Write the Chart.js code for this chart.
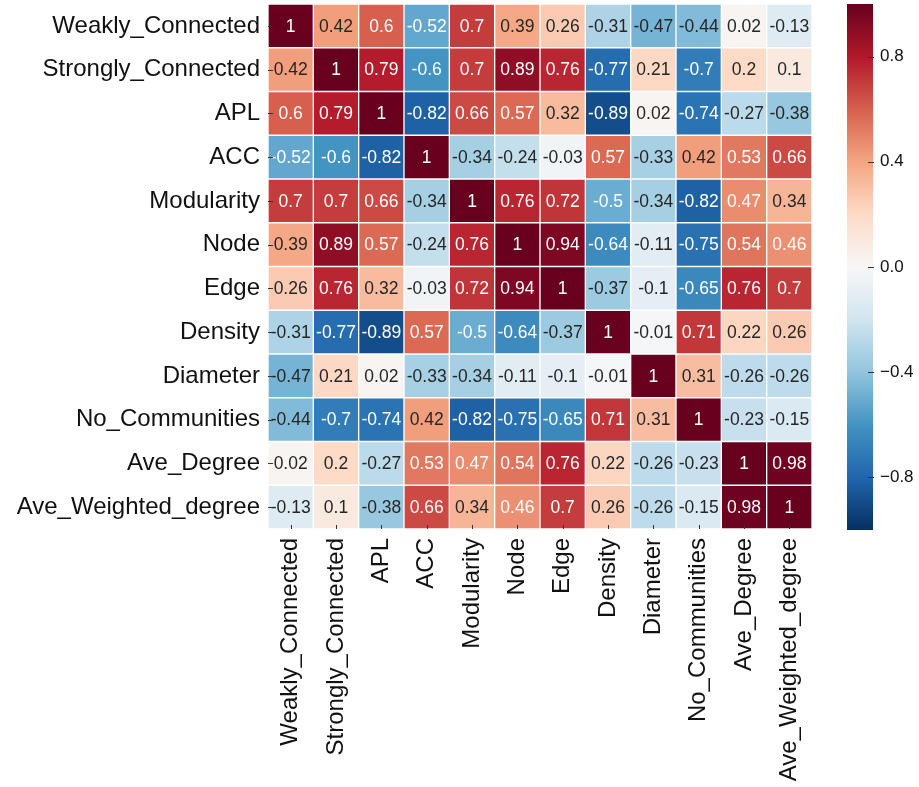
<!DOCTYPE html>
<html>
<head>
<meta charset="utf-8">
<script src="https://cdn.jsdelivr.net/npm/chart.js@4.4.0/dist/chart.umd.min.js"></script>
<style>
    body { margin: 0; background: #fff; }
    #wrap { position: relative; width: 919px; height: 787px; }
    #heat { position: absolute; left: 0; top: 0; }
    #cbar { position: absolute; left: 840px; top: 0; }
</style>
</head>
<body>
<div id="wrap">
    <canvas id="heat" width="919" height="787"></canvas>
    <canvas id="cbar" width="79" height="787"></canvas>
</div>
<script>
// Tên các biến (dùng cho cả hàng và cột)
const labels = ['Weakly_Connected', 'Strongly_Connected', 'APL', 'ACC', 'Modularity', 'Node',
    'Edge', 'Density', 'Diameter', 'No_Communities', 'Ave_Degree', 'Ave_Weighted_degree'];

// Ma trận tương quan, mỗi mảng là một hàng
const rowWeakly   = [1, 0.42, 0.6, -0.52, 0.7, 0.39, 0.26, -0.31, -0.47, -0.44, 0.02, -0.13];
const rowStrongly = [0.42, 1, 0.79, -0.6, 0.7, 0.89, 0.76, -0.77, 0.21, -0.7, 0.2, 0.1];
const rowAPL      = [0.6, 0.79, 1, -0.82, 0.66, 0.57, 0.32, -0.89, 0.02, -0.74, -0.27, -0.38];
const rowACC      = [-0.52, -0.6, -0.82, 1, -0.34, -0.24, -0.03, 0.57, -0.33, 0.42, 0.53, 0.66];
const rowModul    = [0.7, 0.7, 0.66, -0.34, 1, 0.76, 0.72, -0.5, -0.34, -0.82, 0.47, 0.34];
const rowNode     = [0.39, 0.89, 0.57, -0.24, 0.76, 1, 0.94, -0.64, -0.11, -0.75, 0.54, 0.46];
const rowEdge     = [0.26, 0.76, 0.32, -0.03, 0.72, 0.94, 1, -0.37, -0.1, -0.65, 0.76, 0.7];
const rowDensity  = [-0.31, -0.77, -0.89, 0.57, -0.5, -0.64, -0.37, 1, -0.01, 0.71, 0.22, 0.26];
const rowDiameter = [-0.47, 0.21, 0.02, -0.33, -0.34, -0.11, -0.1, -0.01, 1, 0.31, -0.26, -0.26];
const rowNoComm   = [-0.44, -0.7, -0.74, 0.42, -0.82, -0.75, -0.65, 0.71, 0.31, 1, -0.23, -0.15];
const rowAveDeg   = [0.02, 0.2, -0.27, 0.53, 0.47, 0.54, 0.76, 0.22, -0.26, -0.23, 1, 0.98];
const rowAveWDeg  = [-0.13, 0.1, -0.38, 0.66, 0.34, 0.46, 0.7, 0.26, -0.26, -0.15, 0.98, 1];
const rows = [rowWeakly, rowStrongly, rowAPL, rowACC, rowModul, rowNode,
    rowEdge, rowDensity, rowDiameter, rowNoComm, rowAveDeg, rowAveWDeg];

// Thang màu thanh bên phải
const vMin = -1, vMax = 1;
const cbTicks = [-0.8, -0.4, 0, 0.4, 0.8];

// Bảng màu RdBu_r (từ -1 tới 1)
const rdbu = ['#053061', '#2166ac', '#4393c3', '#92c5de', '#d1e5f0', '#f7f7f7',
    '#fddbc7', '#f4a582', '#d6604d', '#b2182b', '#67001f'];
const FONT = '"Liberation Sans", Arial, sans-serif';

function hexRgb(h) {
    return [1, 3, 5].map(k => parseInt(h.substr(k, 2), 16));
}

function cmap(v) {
    let t = (v - vMin) / (vMax - vMin) * (rdbu.length - 1);
    t = Math.max(0, Math.min(rdbu.length - 1, t));
    const k = Math.min(Math.floor(t), rdbu.length - 2);
    const f = t - k;
    const a = hexRgb(rdbu[k]), b = hexRgb(rdbu[k + 1]);
    return a.map((c, n) => Math.round(c + (b[n] - c) * f));
}

// Chữ tối trên ô sáng, chữ trắng trên ô đậm (giống seaborn)
function textColor(v) {
    const lin = cmap(v).map(c => {
        c /= 255;
        return c <= 0.03928 ? c / 12.92 : Math.pow((c + 0.055) / 1.055, 2.4);
    });
    const lum = 0.2126 * lin[0] + 0.7152 * lin[1] + 0.0722 * lin[2];
    return lum > 0.408 ? '#262626' : '#ffffff';
}

// Bỏ phần đệm tự động theo nhãn để vùng vẽ nằm đúng chỗ
function noPad(s) {
    s.paddingTop = 0; s.paddingBottom = 0;
    s.paddingLeft = 0; s.paddingRight = 0;
}

Chart.defaults.font.family = FONT;
Chart.defaults.color = '#111';

// Vẽ số liệu lên từng ô
const annotPlugin = {
    id: 'annot',
    afterDatasetsDraw(chart) {
        const { ctx, scales: { x, y } } = chart;
        ctx.save();
        ctx.font = '17.5px ' + FONT;
        ctx.textAlign = 'center';
        ctx.textBaseline = 'middle';
        rows.forEach((vals, i) => vals.forEach((v, j) => {
            ctx.fillStyle = textColor(v);
            ctx.fillText(String(v), x.getPixelForValue(j), y.getPixelForValue(i) + 1);
        }));
        ctx.restore();
    }
};

// Vạch chia hướng vào trong
const inTicks = {
    id: 'inTicks',
    afterDatasetsDraw(chart, args, opts) {
        const { ctx, chartArea: a } = chart;
        ctx.save();
        ctx.strokeStyle = '#333';
        ctx.lineWidth = 1;
        ctx.beginPath();
        (opts.x ? chart.scales.x.ticks : []).forEach((t, i) => {
            const px = Math.round(chart.scales.x.getPixelForTick(i)) + 0.5;
            ctx.moveTo(px, a.bottom); ctx.lineTo(px, a.bottom - 4);
        });
        const ys = chart.scales.y;
        ys.ticks.forEach((t, i) => {
            const py = Math.round(ys.getPixelForTick(i)) + 0.5;
            if (opts.side === 'right') { ctx.moveTo(a.right + 1, py); ctx.lineTo(a.right - 5, py); }
            else { ctx.moveTo(a.left, py); ctx.lineTo(a.left + 5, py); }
        });
        ctx.stroke();
        ctx.restore();
    }
};

new Chart(document.getElementById('heat'), {
    type: 'bar',
    data: {
        labels: labels,
        datasets: rows.map((vals, i) => ({
            data: vals.map(() => [i - 0.5, i + 0.5]),
            backgroundColor: vals.map(v => 'rgb(' + cmap(v).join(',') + ')'),
            borderColor: '#ffffff',
            borderWidth: 1,
            borderSkipped: false,
            grouped: false,
            barPercentage: 1,
            categoryPercentage: 1
        }))
    },
    options: {
        responsive: false,
        animation: false,
        layout: { padding: { top: 4, right: 107, left: 0, bottom: 0 } },
        plugins: {
            legend: { display: false },
            tooltip: { enabled: false },
            inTicks: { x: true, side: 'left' }
        },
        scales: {
            x: {
                grid: { display: false, drawTicks: false },
                border: { display: false },
                ticks: { autoSkip: false, minRotation: 90, maxRotation: 90, padding: 9, font: { size: 24 } },
                afterFit: s => { s.height = 258; noPad(s); }
            },
            y: {
                type: 'linear',
                reverse: true,
                min: -0.5,
                max: 11.5,
                grid: { display: false, drawTicks: false },
                border: { display: false },
                afterBuildTicks: s => { s.ticks = labels.map((_, i) => ({ value: i })); },
                ticks: { callback: v => labels[v], padding: 8, font: { size: 24 } },
                afterFit: s => { s.width = 268; noPad(s); }
            }
        }
    },
    plugins: [annotPlugin, inTicks]
});

// Thanh màu
new Chart(document.getElementById('cbar'), {
    type: 'bar',
    data: {
        labels: [''],
        datasets: [{
            data: [[vMin, vMax]],
            backgroundColor: c => {
                const a = c.chart.chartArea;
                if (!a) return null;
                const g = c.chart.ctx.createLinearGradient(0, a.bottom, 0, a.top);
                rdbu.forEach((col, k) => g.addColorStop(k / (rdbu.length - 1), col));
                return g;
            },
            borderWidth: 0,
            barPercentage: 1,
            categoryPercentage: 1
        }]
    },
    options: {
        responsive: false,
        animation: false,
        layout: { padding: { left: 7, top: 4, bottom: 257, right: 0 } },
        plugins: {
            legend: { display: false },
            tooltip: { enabled: false },
            inTicks: { x: false, side: 'right' }
        },
        scales: {
            x: { display: false },
            y: {
                position: 'right',
                min: vMin,
                max: vMax,
                grid: { display: false, drawTicks: false },
                border: { display: false },
                afterBuildTicks: s => { s.ticks = cbTicks.map(v => ({ value: v })); },
                ticks: {
                    callback: v => (v < 0 ? '\u2212' : '') + Math.abs(v).toFixed(1),
                    padding: 7,
                    font: { size: 17 }
                },
                afterFit: s => { s.width = 46; noPad(s); }
            }
        }
    },
    plugins: [inTicks]
});
</script>
</body>
</html>
